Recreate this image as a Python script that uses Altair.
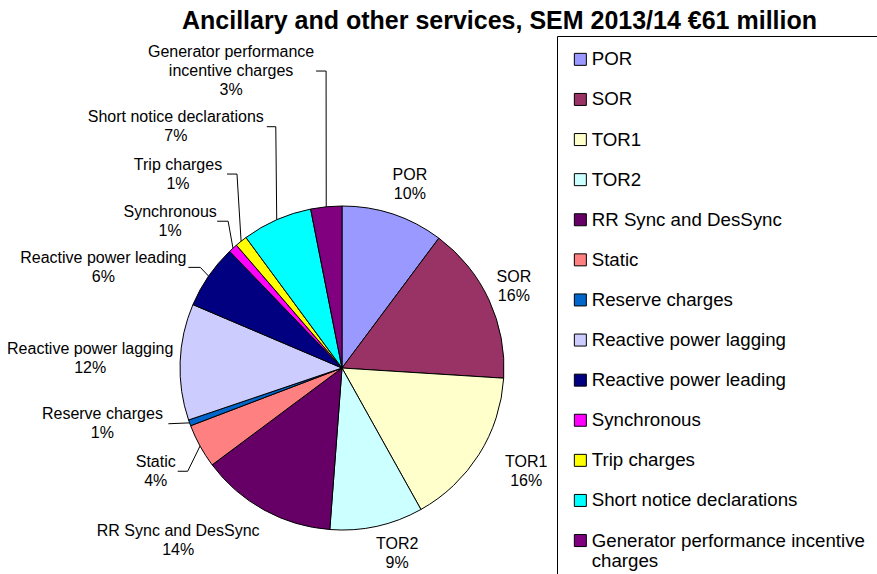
import altair as alt
import numpy as np
import pandas as pd

# ---------------- data ----------------
categories = [
    "POR", "SOR", "TOR1", "TOR2", "RR Sync and DesSync", "Static",
    "Reserve charges", "Reactive power lagging", "Reactive power leading",
    "Synchronous", "Trip charges", "Short notice declarations",
    "Generator performance incentive charges",
]
shares = [10.2, 15.8, 15.9, 9.3, 13.6, 4.4, 0.6, 11.6, 6.4, 0.9, 1.2, 7.0, 3.1]
colors = [
    "#9999FF", "#993366", "#FFFFCC", "#CCFFFF", "#660066", "#FF8080",
    "#0066CC", "#CCCCFF", "#000080", "#FF00FF", "#FFFF00", "#00FFFF",
    "#800080",
]
title_text = "Ancillary and other services, SEM 2013/14 €61 million"

# ---------------- layout ----------------
W, H = 877, 534          # plot area
CX, CY = 342, 328        # pie centre inside plot area (px)
R = 162                  # pie radius (px)
LH = 19                  # label line height
# label placement: radius from centre and angle nudge (deg) from slice mid-angle
lab_radius = [196, 190, 211, 194, 238, 213, 246, 252, 259, 226, 254, 293, 317]
lab_nudge = [1.9, -0.4, -3.0, -4.1, 14.7, -0.2, 6.7, 0.1, -11.7, -7.2, -1.7, -10.8, -14.9]
# leader lines: (start offset right of label centre, elbow length) ; None = no leader
leaders = [None, None, None, None, None, (22, 10), (66, 0), None, (85, 12),
           (47, 11), (49, 10), (91, 9), (85, 10)]
wrap = {"Generator performance incentive charges": "Generator performance\nincentive charges"}

# ---------------- derived ----------------
vals = np.array(shares, dtype=float)
total = vals.sum()
mid = (np.cumsum(vals) - vals / 2) / total * 2 * np.pi

df = pd.DataFrame({"cat": categories, "value": shares, "idx": range(len(categories))})

lab_rows, line_rows = [], []
for i, c in enumerate(categories):
    a = mid[i] + np.radians(lab_nudge[i])
    lx = lab_radius[i] * np.sin(a)
    ly = lab_radius[i] * np.cos(a)
    pct = int(round(shares[i] / total * 100))
    txt = f"{wrap.get(c, c)}\n{pct}%"
    n_lines = txt.count("\n") + 1
    # first line is anchored; shift so the whole block is centred on (lx, ly)
    lab_rows.append({"cat": c, "x": lx, "y": ly + (n_lines - 1) * LH / 2, "text": txt})
    if leaders[i] is not None:
        sdx, el = leaders[i]
        pts = [(lx + sdx, ly), (lx + sdx + el, ly),
               (R * np.sin(mid[i]), R * np.cos(mid[i]))]
        for k, (px, py) in enumerate(pts):
            line_rows.append({"cat": c, "pt": k, "x": px, "y": py})

lab_df = pd.DataFrame(lab_rows)
line_df = pd.DataFrame(line_rows)

xs = alt.Scale(domain=[-CX, W - CX], nice=False, zero=False)
ys = alt.Scale(domain=[-(H - CY), CY], nice=False, zero=False)

FONT = "Liberation Sans"

legend = alt.Legend(
    orient="none", legendX=557, legendY=-4, title=None,
    strokeColor="black", padding=14, symbolType="square", symbolSize=144,
    symbolStrokeColor="black", symbolStrokeWidth=1, symbolOpacity=1,
    labelFont=FONT, labelFontSize=18.7, labelColor="black", labelOffset=2,
    labelLimit=600, rowPadding=20.1, fillColor="white",
    labelExpr="datum.label == 'Generator performance incentive charges' ? "
              "['Generator performance incentive', 'charges'] : datum.label",
)

arcs = alt.Chart(df).mark_arc(outerRadius=R, stroke="black", strokeWidth=1).encode(
    theta=alt.Theta("value:Q", stack=True),
    color=alt.Color("cat:N", scale=alt.Scale(domain=categories, range=colors),
                    sort=categories, legend=legend),
    order=alt.Order("idx:Q"),
    x=alt.XDatum(0, type="quantitative", scale=xs, axis=None),
    y=alt.YDatum(0, type="quantitative", scale=ys, axis=None),
)

lines = alt.Chart(line_df).mark_line(color="black", strokeWidth=1).encode(
    x=alt.X("x:Q", scale=xs, axis=None),
    y=alt.Y("y:Q", scale=ys, axis=None),
    detail="cat:N",
    order="pt:Q",
)

labels = alt.Chart(lab_df).mark_text(
    font=FONT, fontSize=16, lineBreak="\n", lineHeight=LH, align="center",
    baseline="middle", color="black",
).encode(
    x=alt.X("x:Q", scale=xs, axis=None),
    y=alt.Y("y:Q", scale=ys, axis=None),
    text="text:N",
)

chart = alt.layer(arcs, lines, labels).properties(
    width=W, height=H,
    title=alt.Title(title_text, anchor="start", frame="group", dx=182, dy=30,
                    offset=12, baseline="alphabetic", font=FONT, fontSize=25,
                    fontWeight="bold", color="black"),
    autosize=alt.AutoSizeParams(type="none"),
    padding={"left": 0, "top": 40, "right": 0, "bottom": 0},
    background="white",
).configure_view(strokeWidth=0)

chart.save("out.html", embed_options={"renderer": "svg", "actions": False})
